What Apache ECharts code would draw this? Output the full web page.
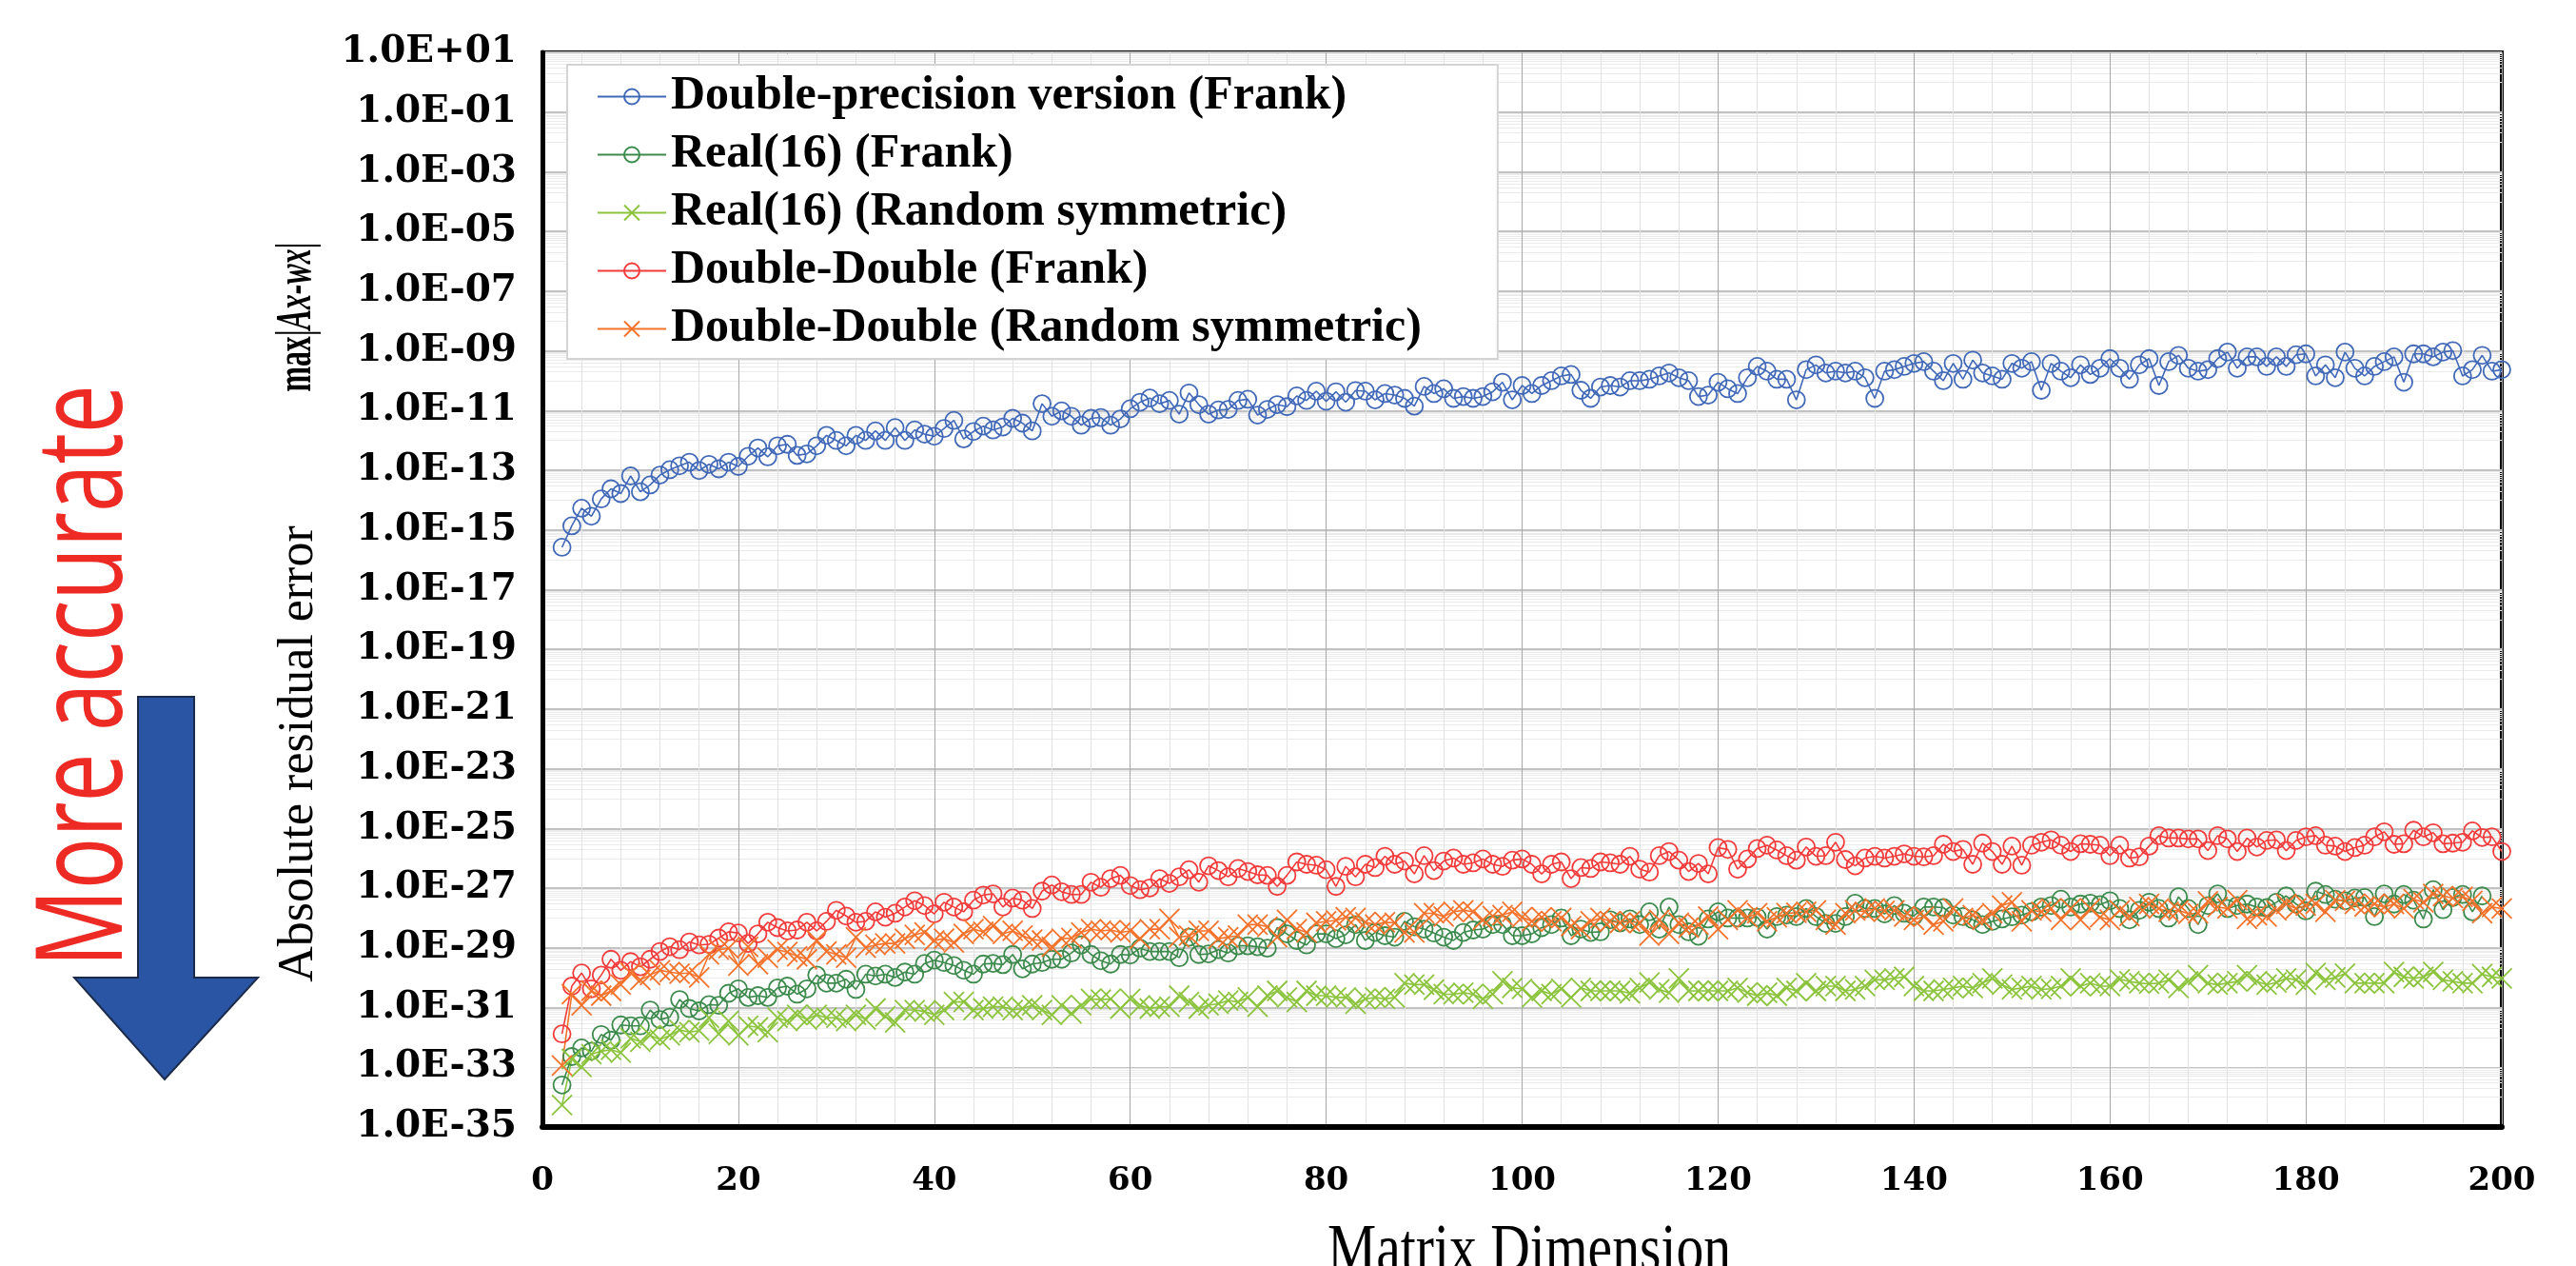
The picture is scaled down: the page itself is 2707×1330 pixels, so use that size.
<!DOCTYPE html>
<html>
<head>
<meta charset="utf-8">
<script src="https://cdn.jsdelivr.net/npm/echarts@6/dist/echarts.min.js"></script>
<style>
  html, body { margin: 0; padding: 0; background: #fff; }
  #residual { width: 2707px; height: 1330px; }
</style>
</head>
<body>
<div id="residual"></div>
<script>
// matrix dimensions on the x axis (2 .. 200)
var dims = [];
for (var n = 2; n <= 200; n++) { dims.push(n); }

var seriesNames = [
    'Double-precision version (Frank)',
    'Real(16) (Frank)',
    'Real(16) (Random symmetric)',
    'Double-Double (Frank)',
    'Double-Double (Random symmetric)'
];

// log10 of max|Ax-wx|, one value per dimension, n = 2 .. 200
var dpFrank = [
    -15.58, -14.86, -14.27, -14.54, -13.96, -13.62, -13.78, -13.19, -13.72,
    -13.49, -13.16, -12.98, -12.85, -12.73, -13.01, -12.80, -12.95, -12.73, -12.87,
    -12.53, -12.25, -12.55, -12.18, -12.13, -12.50, -12.45, -12.18, -11.83, -12.00,
    -12.18, -11.83, -12.00, -11.68, -12.00, -11.57, -12.00, -11.65, -11.79, -11.86,
    -11.60, -11.33, -11.95, -11.70, -11.52, -11.65, -11.55, -11.26, -11.42, -11.68,
    -10.77, -11.19, -11.01, -11.19, -11.49, -11.26, -11.23, -11.49, -11.28, -10.94,
    -10.72, -10.58, -10.77, -10.66, -11.12, -10.41, -10.80, -11.12, -10.98, -10.96,
    -10.66, -10.62, -11.15, -10.96, -10.80, -10.87, -10.51, -10.66, -10.35, -10.69,
    -10.37, -10.72, -10.33, -10.35, -10.64, -10.43, -10.48, -10.59, -10.85, -10.19,
    -10.43, -10.27, -10.59, -10.53, -10.59, -10.53, -10.37, -10.05, -10.64, -10.16,
    -10.43, -10.16, -10.00, -9.84, -9.79, -10.32, -10.59, -10.21, -10.16, -10.21,
    -10.00, -10.00, -9.95, -9.84, -9.74, -9.90, -10.00, -10.53, -10.48, -10.05,
    -10.27, -10.43, -9.90, -9.52, -9.68, -9.95, -9.95, -10.64, -9.63, -9.47,
    -9.74, -9.68, -9.74, -9.68, -9.90, -10.59, -9.68, -9.63, -9.52, -9.42,
    -9.36, -9.68, -10.00, -9.42, -9.95, -9.31, -9.74, -9.84, -9.95, -9.42,
    -9.58, -9.36, -10.32, -9.42, -9.68, -9.90, -9.47, -9.79, -9.58, -9.26,
    -9.58, -9.95, -9.47, -9.26, -10.16, -9.36, -9.15, -9.58, -9.68, -9.63,
    -9.26, -9.04, -9.58, -9.20, -9.20, -9.52, -9.20, -9.52, -9.13, -9.10,
    -9.84, -9.47, -9.90, -9.04, -9.58, -9.84, -9.52, -9.36, -9.20, -10.05,
    -9.10, -9.10, -9.20, -9.04, -8.99, -9.84, -9.63, -9.15, -9.68, -9.63
];

var q16Frank = [
    -33.59, -32.64, -32.35, -32.46, -31.90, -32.09, -31.58, -31.61, -31.61,
    -31.08, -31.40, -31.32, -30.73, -31.03, -31.11, -30.90, -30.92, -30.52, -30.37,
    -30.66, -30.60, -30.66, -30.34, -30.28, -30.55, -30.37, -29.91, -30.18, -30.18,
    -30.05, -30.39, -29.88, -29.94, -29.88, -29.99, -29.81, -29.88, -29.52, -29.41,
    -29.49, -29.59, -29.75, -29.88, -29.54, -29.52, -29.56, -29.22, -29.70, -29.54,
    -29.49, -29.38, -29.38, -29.17, -28.90, -29.22, -29.43, -29.54, -29.22, -29.24,
    -29.01, -29.12, -29.12, -29.12, -29.33, -28.64, -29.22, -29.20, -29.06, -29.17,
    -28.93, -28.93, -28.96, -29.01, -28.32, -28.53, -28.75, -28.90, -28.53, -28.53,
    -28.69, -28.56, -28.22, -28.75, -28.48, -28.59, -28.64, -28.11, -28.29, -28.37,
    -28.50, -28.64, -28.75, -28.48, -28.40, -28.37, -28.22, -28.22, -28.59, -28.59,
    -28.53, -28.32, -28.22, -28.00, -28.59, -28.37, -28.48, -28.46, -28.06, -28.16,
    -28.03, -28.22, -27.79, -28.37, -27.63, -28.22, -28.46, -28.61, -28.03, -27.79,
    -28.00, -28.00, -28.00, -27.97, -28.37, -27.95, -27.90, -27.95, -27.68, -27.95,
    -28.18, -28.18, -27.95, -27.50, -27.68, -27.68, -27.86, -27.58, -27.84, -27.93,
    -27.63, -27.63, -27.65, -27.90, -27.95, -28.06, -28.22, -28.11, -28.03, -27.96,
    -27.90, -27.79, -27.63, -27.58, -27.37, -27.63, -27.53, -27.50, -27.55, -27.42,
    -27.68, -28.06, -27.74, -27.47, -27.68, -28.00, -27.29, -27.68, -28.22, -27.58,
    -27.19, -27.68, -27.58, -27.53, -27.63, -27.65, -27.47, -27.26, -27.53, -27.76,
    -27.10, -27.21, -27.37, -27.42, -27.33, -27.31, -27.95, -27.19, -27.53, -27.21,
    -27.40, -28.03, -27.05, -27.72, -27.31, -27.21, -27.79, -27.26, null, null
];

var q16Random = [
    -34.26, -32.72, -32.99, -32.56, -32.46, -32.41, -32.51, -32.03, -32.14,
    -31.93, -32.07, -31.93, -31.75, -31.82, -31.77, -31.34, -31.88, -31.45, -31.93,
    -31.61, -31.66, -31.82, -31.34, -31.45, -31.24, -31.40, -31.24, -31.34, -31.34,
    -31.45, -31.24, -31.40, -31.03, -31.29, -31.50, -31.08, -31.08, -31.13, -31.24,
    -31.08, -30.81, -30.81, -31.08, -31.03, -30.97, -30.97, -31.08, -31.03, -30.92,
    -31.08, -31.24, -30.92, -31.19, -30.92, -30.71, -30.73, -30.71, -31.03, -30.71,
    -30.92, -31.03, -30.97, -30.97, -30.60, -30.81, -31.03, -30.92, -30.87, -30.76,
    -30.81, -30.66, -30.97, -30.60, -30.44, -30.66, -30.81, -30.44, -30.60, -30.60,
    -30.66, -30.66, -30.87, -30.71, -30.66, -30.71, -30.66, -30.18, -30.23, -30.23,
    -30.40, -30.55, -30.55, -30.50, -30.55, -30.71, -30.55, -30.12, -30.34, -30.37,
    -30.66, -30.44, -30.55, -30.37, -30.66, -30.34, -30.44, -30.44, -30.44, -30.44,
    -30.52, -30.34, -30.16, -30.39, -30.50, -30.02, -30.44, -30.44, -30.44, -30.44,
    -30.44, -30.34, -30.50, -30.60, -30.50, -30.60, -30.34, -30.44, -30.18, -30.44,
    -30.28, -30.28, -30.44, -30.39, -30.28, -30.07, -30.07, -30.02, -29.97, -30.28,
    -30.44, -30.44, -30.39, -30.34, -30.28, -30.34, -30.18, -30.02, -30.23, -30.39,
    -30.34, -30.28, -30.39, -30.37, -30.28, -30.02, -30.28, -30.18, -30.28, -30.28,
    -30.05, -30.12, -30.18, -30.20, -30.18, -30.07, -30.34, -30.12, -29.91, -30.18,
    -30.23, -30.18, -30.12, -29.91, -30.12, -30.23, -30.16, -30.02, -30.07, -30.23,
    -29.84, -30.07, -29.99, -29.86, -30.18, -30.18, -30.18, -30.18, -29.81, -29.97,
    -30.02, -29.97, -29.81, -30.07, -30.12, -30.18, -30.18, -29.88, -29.97, -30.02
];

var ddFrank = [
    -31.88, -30.28, -29.84, -30.37, -29.91, -29.38, -29.75, -29.46, -29.63,
    -29.38, -29.12, -28.96, -29.06, -28.80, -28.90, -28.88, -28.67, -28.46, -28.50,
    -28.85, -28.53, -28.14, -28.32, -28.43, -28.40, -28.14, -28.43, -28.11, -27.74,
    -27.93, -28.14, -28.11, -27.79, -27.97, -27.84, -27.63, -27.42, -27.58, -27.86,
    -27.47, -27.63, -27.79, -27.40, -27.23, -27.19, -27.63, -27.33, -27.40, -27.68,
    -27.10, -26.89, -27.12, -27.21, -27.21, -26.80, -26.97, -26.68, -26.57, -26.91,
    -27.05, -26.99, -26.68, -26.84, -26.62, -26.38, -26.80, -26.25, -26.41, -26.62,
    -26.34, -26.44, -26.55, -26.57, -26.94, -26.57, -26.12, -26.20, -26.23, -26.38,
    -26.94, -26.27, -26.62, -26.20, -26.31, -25.93, -26.20, -26.09, -26.52, -25.91,
    -26.41, -26.09, -25.99, -26.20, -26.15, -26.02, -26.20, -26.27, -26.06, -26.02,
    -26.20, -26.52, -26.20, -26.12, -26.68, -26.31, -26.34, -26.12, -26.15, -26.20,
    -25.93, -26.36, -26.46, -25.91, -25.77, -26.06, -26.44, -26.17, -26.52, -25.64,
    -25.70, -26.36, -26.02, -25.67, -25.56, -25.72, -25.91, -26.06, -25.62, -25.93,
    -25.91, -25.46, -26.04, -26.25, -25.99, -25.93, -25.99, -25.93, -25.85, -25.93,
    -25.95, -25.91, -25.53, -25.77, -25.70, -26.20, -25.49, -25.77, -26.20, -25.59,
    -26.23, -25.56, -25.46, -25.38, -25.56, -25.77, -25.51, -25.53, -25.56, -25.91,
    -25.56, -25.99, -25.95, -25.59, -25.24, -25.32, -25.32, -25.35, -25.35, -25.74,
    -25.24, -25.35, -25.77, -25.32, -25.62, -25.40, -25.38, -25.74, -25.40, -25.28,
    -25.24, -25.56, -25.59, -25.77, -25.64, -25.56, -25.28, -25.11, -25.53, -25.51,
    -25.06, -25.28, -25.14, -25.51, -25.49, -25.46, -25.08, -25.30, -25.28, -25.77
];

var ddRandom = [
    -32.94, -30.55, -30.92, -30.44, -30.60, -30.44, -30.23, -29.84, -30.07,
    -29.91, -29.75, -29.81, -29.86, -29.84, -29.99, -29.22, -29.06, -29.01, -29.59,
    -28.96, -29.54, -29.33, -29.06, -29.14, -29.28, -29.38, -28.75, -29.12, -29.22,
    -29.33, -28.64, -28.99, -28.90, -28.85, -28.85, -28.69, -28.56, -28.48, -28.75,
    -28.69, -28.82, -28.53, -28.37, -28.46, -28.27, -28.53, -28.43, -28.59, -28.72,
    -28.75, -28.96, -28.69, -28.67, -28.48, -28.37, -28.43, -28.40, -28.48, -28.43,
    -28.69, -28.37, -28.37, -28.03, -28.64, -28.59, -28.43, -28.43, -28.69, -28.64,
    -28.59, -28.22, -28.22, -28.29, -28.64, -28.06, -28.37, -28.48, -28.16, -28.11,
    -28.08, -27.97, -28.00, -28.14, -28.22, -28.14, -28.16, -28.48, -28.48, -27.84,
    -27.84, -27.95, -27.79, -27.74, -27.79, -28.06, -27.93, -27.90, -27.79, -27.97,
    -28.11, -27.97, -28.11, -28.00, -28.27, -28.37, -28.11, -28.00, -28.11, -28.16,
    -28.11, -28.16, -28.59, -28.06, -28.53, -28.16, -28.32, -28.22, -27.95, -28.37,
    -28.06, -27.74, -27.97, -27.84, -28.11, -27.97, -27.84, -27.82, -27.79, -27.74,
    -28.06, -28.22, -27.84, -27.74, -27.79, -27.68, -27.76, -27.74, -27.95, -28.06,
    -27.95, -28.22, -28.11, -27.68, -28.00, -27.90, -28.06, -27.84, -27.58, -27.47,
    -28.11, -27.74, -27.79, -27.68, -28.06, -27.68, -28.06, -27.68, -27.97, -28.06,
    -27.74, -27.93, -27.63, -27.53, -27.68, -27.79, -27.74, -27.86, -27.84, -27.44,
    -27.63, -27.68, -27.40, -28.03, -27.90, -27.95, -27.74, -27.53, -27.68, -27.58,
    -27.53, -27.79, -27.40, -27.42, -27.53, -27.61, -27.53, -27.63, -27.53, -27.68,
    -27.37, -27.47, -27.19, -27.26, -27.33, -27.29, -27.42, -27.84, -27.63, -27.68
];

// y axis: exponent scale, labelled every two decades
var yMin = -35;
var yMax = 1;

// faint minor grid lines like a base-100 log axis: 10*m times each labelled tick
var minorGrid = [];
for (var a = yMin; a < yMax; a += 2) {
    for (var m = 1; m <= 9; m++) { minorGrid.push(a + 1 + Math.log10(m)); }
}

function toPairs(vals) {
    return dims.map(function (d, i) { return [d, vals[i]]; })
        .filter(function (p) { return p[1] !== null; });
}

function sciLabel(v) {
    var e = Math.round(v);
    var k = Math.abs(e);
    return '1.0E' + (e < 0 ? '-' : '+') + (k < 10 ? '0' + k : k);
}

var crossPath = 'path://M0,0L20,20M20,0L0,20';

function makeSeries(name, vals, color, symbol, size) {
    return {
        name: name,
        type: 'line',
        data: toPairs(vals),
        symbol: symbol,
        symbolSize: size,
        showAllSymbol: true,
        connectNulls: true,
        lineStyle: { color: color, width: 1.6 },
        itemStyle: {
            color: symbol === 'circle' ? 'rgba(255,255,255,0)' : color,
            borderColor: color,
            borderWidth: 1.8
        }
    };
}

var chart = echarts.init(document.getElementById('residual'));

var option = {
    animation: false,
    backgroundColor: '#ffffff',
    grid: {
        left: 570, right: 78, top: 55, bottom: 146,
        show: true, borderColor: '#000', borderWidth: 4
    },
    legend: {
        orient: 'vertical',
        left: 596,
        top: 68,
        padding: [8, 80, 6, 31],
        itemGap: 10,
        itemWidth: 72,
        itemHeight: 20,
        backgroundColor: '#ffffff',
        borderColor: '#d4d4d4',
        borderWidth: 2,
        textStyle: {
            fontFamily: 'Liberation Serif',
            fontWeight: 'bold',
            fontSize: 50,
            lineHeight: 51,
            color: '#000'
        },
        data: seriesNames
    },
    xAxis: {
        type: 'value',
        min: 0,
        max: 200,
        interval: 20,
        axisLine: { show: true, onZero: false, lineStyle: { color: '#000', width: 6 } },
        axisTick: { show: false },
        axisLabel: {
            margin: 40,
            fontFamily: 'DejaVu Serif',
            fontWeight: 'bold',
            fontSize: 34,
            color: '#000'
        },
        splitLine: { show: true, lineStyle: { color: '#a8a8a8', width: 1 } },
        minorTick: { show: false, splitNumber: 5 },
        minorSplitLine: { show: true, lineStyle: { color: '#e2e2e2', width: 1 } }
    },
    yAxis: [
        {
            type: 'value',
            min: yMin,
            max: yMax,
            interval: 2,
            axisLine: { show: true, lineStyle: { color: '#000', width: 5 } },
            axisTick: { show: false },
            axisLabel: {
                margin: 27,
                formatter: sciLabel,
                fontFamily: 'DejaVu Serif',
                fontWeight: 'bold',
                fontSize: 39,
                color: '#000'
            },
            splitLine: { show: true, lineStyle: { color: '#c2c2c2', width: 2 } }
        },
        {
            type: 'value',
            min: yMin,
            max: yMax,
            axisLine: { show: false },
            axisLabel: { show: false },
            axisTick: { show: false, customValues: minorGrid },
            splitLine: { show: true, lineStyle: { color: '#ebebeb', width: 1 } }
        }
    ],
    graphic: [
        {
            type: 'polygon',
            shape: {
                points: [[145, 732], [204, 732], [204, 1027], [271, 1027],
                         [173, 1134], [78, 1027], [145, 1027]]
            },
            style: { fill: '#2a55a5', stroke: '#1c2b4a', lineWidth: 2 }
        },
        {
            type: 'text',
            x: 92,
            y: 710,
            rotation: Math.PI / 2,
            scaleX: 0.72,
            style: {
                text: 'More accurate',
                fontFamily: 'Open Sans',
                fontSize: 126,
                fill: '#ee2a24',
                align: 'center',
                verticalAlign: 'middle'
            }
        },
        {
            type: 'text',
            x: 314,
            y: 792,
            rotation: Math.PI / 2,
            style: {
                text: 'Absolute residual error',
                fontFamily: 'Liberation Serif',
                fontSize: 52,
                fill: '#000',
                align: 'center',
                verticalAlign: 'middle'
            }
        },
        {
            type: 'text',
            x: 312,
            y: 333,
            rotation: Math.PI / 2,
            scaleX: 0.6,
            style: {
                text: 'max|{i|Ax-wx}|',
                fontFamily: 'Liberation Serif',
                fontWeight: 'bold',
                fontSize: 53,
                fill: '#000',
                align: 'center',
                verticalAlign: 'middle',
                rich: {
                    i: {
                        fontFamily: 'Liberation Serif',
                        fontWeight: 'bold',
                        fontStyle: 'italic',
                        fontSize: 53,
                        fill: '#000'
                    }
                }
            }
        },
        {
            type: 'text',
            x: 1607,
            y: 1316,
            scaleX: 0.8,
            style: {
                text: 'Matrix Dimension',
                fontFamily: 'Liberation Serif',
                fontSize: 72,
                fill: '#000',
                align: 'center',
                verticalAlign: 'middle'
            }
        }
    ],
    series: [
        makeSeries(seriesNames[0], dpFrank, '#4169b8', 'circle', 18),
        makeSeries(seriesNames[1], q16Frank, '#3c8a4c', 'circle', 18),
        makeSeries(seriesNames[2], q16Random, '#8cc43e', crossPath, 21),
        makeSeries(seriesNames[3], ddFrank, '#f23b3b', 'circle', 18),
        makeSeries(seriesNames[4], ddRandom, '#f4732c', crossPath, 21)
    ]
};

chart.setOption(option);
</script>
</body>
</html>
